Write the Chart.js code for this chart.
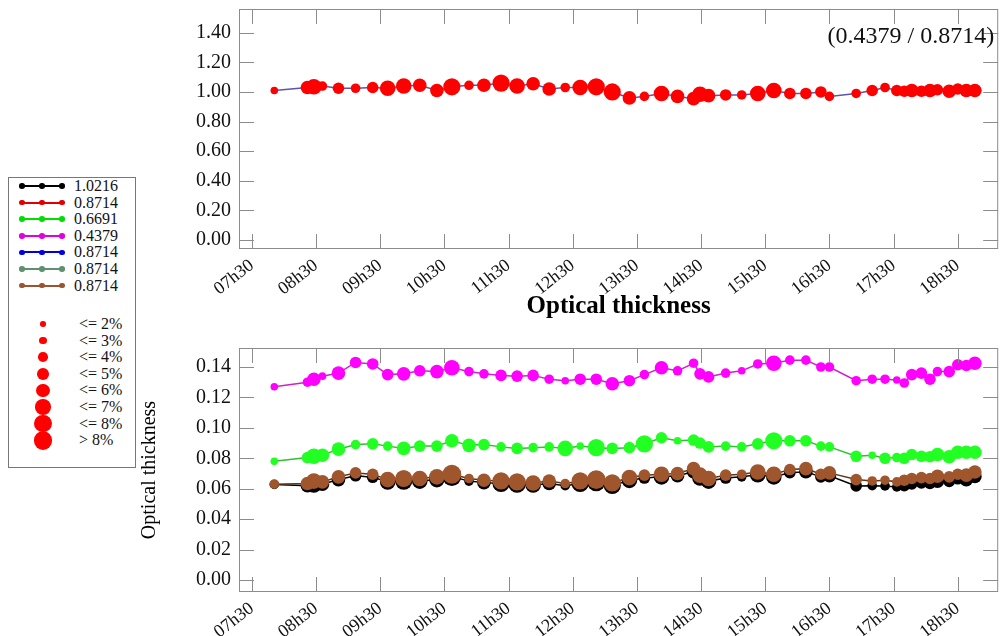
<!DOCTYPE html>
<html>
<head>
<meta charset="utf-8">
<script src="https://cdn.jsdelivr.net/npm/chart.js@4.4.0/dist/chart.umd.min.js"></script>
<style>
  body { margin: 0; background: #fff; width: 1005px; height: 636px; position: relative; overflow: hidden; font-family: "Liberation Serif", "DejaVu Serif", serif; }
  #topWrap { position: absolute; left: 0; top: 0; width: 1005px; height: 310px; }
  #botWrap { position: absolute; left: 0; top: 290px; width: 1005px; height: 346px; }
  #legend { position: absolute; left: 8px; top: 177px; width: 128px; height: 291px; border: 1px solid #777; background: #fff; box-sizing: border-box; z-index: 2; }
  .txt { position: absolute; font-size: 16px; line-height: 16px; color: #111; white-space: nowrap; }
  .ln { position: absolute; height: 2px; }
  .dot { position: absolute; border-radius: 50%; }
</style>
</head>
<body>
<div id="topWrap"><canvas id="topChart"></canvas></div>
<div id="botWrap"><canvas id="botChart"></canvas></div>
<div id="legend"></div>
<script>
// observation times
const times = ["07:51","08:22","08:28","08:36","08:51","09:07","09:23","09:37","09:52","10:07",
  "10:23","10:37","10:53","11:07","11:23","11:38","11:53","12:08","12:23","12:37",
  "12:52","13:07","13:23","13:37","13:53","14:08","14:23","14:29","14:37","14:53",
  "15:08","15:23","15:38","15:53","16:08","16:22","16:30","16:55","17:10","17:22",
  "17:33","17:40","17:47","17:56","18:04","18:11","18:22","18:30","18:38","18:46"];

const tickHours = [7.5, 8.5, 9.5, 10.5, 11.5, 12.5, 13.5, 14.5, 15.5, 16.5, 17.5, 18.5];

// top panel: ratio 0.4379 / 0.8714
const ratioValues = [1.01, 1.03, 1.035, 1.04, 1.025, 1.025, 1.03, 1.025, 1.04, 1.045,
  1.01, 1.035, 1.045, 1.045, 1.06, 1.04, 1.055, 1.02, 1.03, 1.03,
  1.035, 1.00, 0.96, 0.97, 0.99, 0.97, 0.955, 0.985, 0.975, 0.98,
  0.98, 0.99, 1.01, 0.99, 0.99, 1.0, 0.97, 0.99, 1.01, 1.03,
  1.01, 1.005, 1.01, 1.005, 1.01, 1.015, 1.005, 1.02, 1.01, 1.01];
const ratioSize = [2, 5, 6, 3, 4, 3, 4, 6, 6, 5,
  5, 7, 3, 5, 7, 6, 5, 5, 3, 6,
  7, 7, 5, 3, 6, 5, 5, 6, 5, 4,
  3, 6, 6, 4, 4, 4, 3, 3, 4, 3,
  4, 4, 5, 4, 5, 4, 5, 4, 5, 5];

// bottom panel: optical thickness per wavelength
const v04379 = [0.127, 0.130, 0.132, 0.134, 0.136, 0.143, 0.142, 0.135, 0.1355, 0.1375,
  0.137, 0.1395, 0.137, 0.1355, 0.1345, 0.134, 0.1345, 0.132, 0.131, 0.132,
  0.132, 0.129, 0.131, 0.135, 0.1395, 0.1375, 0.1425, 0.1355, 0.1335, 0.136,
  0.1375, 0.142, 0.1425, 0.1445, 0.1445, 0.140, 0.140, 0.131, 0.132, 0.132,
  0.1315, 0.1295, 0.135, 0.136, 0.132, 0.137, 0.137, 0.1415, 0.141, 0.1425];
const s04379 = [2, 3, 5, 2, 5, 4, 4, 4, 5, 4,
  5, 6, 3, 3, 4, 4, 4, 3, 2, 4,
  4, 5, 4, 3, 5, 3, 3, 4, 4, 3,
  2, 3, 6, 3, 3, 3, 3, 3, 3, 3,
  2, 3, 4, 4, 4, 3, 4, 4, 4, 5];

const v06691 = [0.078, 0.0805, 0.0813, 0.082, 0.086, 0.089, 0.0895, 0.088, 0.0865, 0.088,
  0.088, 0.0915, 0.0885, 0.089, 0.0875, 0.0865, 0.087, 0.0875, 0.0865, 0.088,
  0.087, 0.0865, 0.087, 0.0895, 0.0935, 0.0915, 0.092, 0.090, 0.0875, 0.088,
  0.0875, 0.0895, 0.0915, 0.0915, 0.0915, 0.088, 0.0875, 0.0813, 0.082, 0.080,
  0.0805, 0.080, 0.0825, 0.0813, 0.081, 0.0825, 0.081, 0.084, 0.084, 0.084];
const s06691 = [2, 4, 6, 5, 5, 3, 4, 3, 5, 4,
  4, 5, 5, 4, 3, 4, 3, 3, 6, 2,
  7, 4, 4, 7, 4, 2, 4, 4, 4, 3,
  3, 4, 7, 4, 4, 3, 3, 4, 2, 4,
  3, 4, 4, 4, 4, 5, 5, 5, 5, 5];

const v08714 = [0.063, 0.0634, 0.065, 0.0645, 0.0678, 0.0704, 0.0695, 0.066, 0.0667, 0.0667,
  0.0678, 0.0695, 0.0667, 0.0656, 0.0651, 0.0645, 0.0638, 0.0651, 0.0634, 0.0651,
  0.066, 0.0638, 0.0673, 0.0689, 0.0695, 0.070, 0.0732, 0.0689, 0.0667, 0.0689,
  0.0695, 0.071, 0.0695, 0.0726, 0.0732, 0.0695, 0.0704, 0.066, 0.0651, 0.0656,
  0.0645, 0.0656, 0.0667, 0.0673, 0.0667, 0.0682, 0.0678, 0.0695, 0.0689, 0.071];
const s08714 = [3, 5, 6, 5, 5, 4, 4, 6, 7, 6,
  6, 8, 3, 5, 7, 7, 6, 5, 3, 7,
  8, 7, 6, 4, 6, 5, 5, 6, 6, 4,
  3, 6, 6, 4, 5, 4, 5, 4, 3, 3,
  3, 4, 4, 4, 4, 5, 4, 4, 5, 5];

const v10216 = [0.0628, 0.062, 0.0625, 0.063, 0.066, 0.0685, 0.0675, 0.0645, 0.065, 0.065,
  0.066, 0.068, 0.065, 0.064, 0.0635, 0.063, 0.0625, 0.0635, 0.062, 0.0635,
  0.0645, 0.0622, 0.0655, 0.067, 0.0678, 0.0685, 0.0712, 0.067, 0.065, 0.067,
  0.0678, 0.0692, 0.0678, 0.0705, 0.0712, 0.0678, 0.0685, 0.0618, 0.062, 0.0618,
  0.0612, 0.062, 0.0632, 0.0638, 0.0635, 0.065, 0.0648, 0.0665, 0.066, 0.068];
const s10216 = [3, 5, 6, 5, 5, 4, 4, 6, 7, 6,
  6, 8, 3, 5, 7, 7, 6, 5, 3, 7,
  8, 7, 6, 4, 6, 5, 5, 6, 6, 4,
  3, 6, 6, 4, 5, 4, 5, 4, 3, 3,
  3, 4, 4, 4, 4, 5, 4, 4, 5, 5];

const seriesLabels = ["1.0216", "0.8714", "0.6691", "0.4379", "0.8714", "0.8714", "0.8714"];
const seriesColors = ["#000000", "#e00000", "#00e000", "#e000e0", "#0000e0", "#5f9070", "#9a5530"];
const sizeLabels = ["<= 2%", "<= 3%", "<= 4%", "<= 5%", "<= 6%", "<= 7%", "<= 8%", "> 8%"];
const sizeRadius = [2.8, 3.8, 4.8, 5.8, 6.8, 7.8, 8.6, 9.4];

const hours = times.map(t => {
  const p = t.split(":");
  return parseInt(p[0]) + parseInt(p[1]) / 60;
});
const pts = vals => vals.map((v, i) => ({ x: hours[i], y: v }));
const radii = sizes => sizes.map(s => sizeRadius[s - 1]);

Chart.defaults.font.family = "'Liberation Serif', 'DejaVu Serif', serif";
Chart.defaults.color = "#111";

const frameTicks = {
  id: "frameTicks",
  afterDraw(chart, args, opts) {
    const { ctx, chartArea: a, scales } = chart;
    ctx.save();
    ctx.strokeStyle = "#8c8c8c";
    ctx.lineWidth = 1;
    ctx.strokeRect(a.left + 0.5, a.top + 0.5, a.right - a.left - 1, a.bottom - a.top - 1);
    ctx.beginPath();
    scales.x.ticks.forEach(t => {
      const x = Math.round(scales.x.getPixelForValue(t.value)) + 0.5;
      ctx.moveTo(x, a.bottom); ctx.lineTo(x, a.bottom - 15);
      ctx.moveTo(x, a.top); ctx.lineTo(x, a.top + 15);
    });
    scales.y.ticks.forEach(t => {
      const y = Math.round(scales.y.getPixelForValue(t.value)) + 0.5;
      ctx.moveTo(a.left, y); ctx.lineTo(a.left + 15, y);
      ctx.moveTo(a.right, y); ctx.lineTo(a.right - 15, y);
    });
    ctx.stroke();
    if (opts.note) {
      ctx.fillStyle = "#111";
      ctx.font = "24px 'Liberation Serif', serif";
      ctx.textAlign = "right";
      ctx.textBaseline = "middle";
      ctx.fillText(opts.note, a.right - 4, a.top + 28);
    }
    ctx.restore();
  }
};

function xScale(h) {
  return {
    type: "linear",
    min: 7.30,
    max: 19.13,
    grid: { display: false, drawTicks: false },
    border: { display: false },
    afterBuildTicks: s => { s.ticks = tickHours.map(v => ({ value: v })); },
    afterFit: s => { s.height = h; s.paddingLeft = 0; s.paddingRight = 0; },
    ticks: {
      minRotation: 38,
      maxRotation: 38,
      padding: 6,
      font: { size: 18 },
      callback: v => {
        const hh = Math.floor(v);
        const mm = Math.round((v - hh) * 60);
        return String(hh).padStart(2, "0") + "h" + String(mm).padStart(2, "0");
      }
    }
  };
}

function yScale(min, max, step, w) {
  return {
    min: min,
    max: max,
    grid: { display: false, drawTicks: false },
    border: { display: false },
    afterFit: s => { s.width = w; s.paddingTop = 0; s.paddingBottom = 0; },
    ticks: { stepSize: step, includeBounds: false, padding: 8, font: { size: 20 }, callback: v => v.toFixed(2) }
  };
}

function series(label, vals, sizes, pointColor, lineColor, order) {
  return {
    label: label,
    data: pts(vals),
    borderColor: lineColor,
    backgroundColor: pointColor,
    pointBackgroundColor: pointColor,
    pointBorderColor: pointColor,
    pointBorderWidth: 0,
    pointRadius: radii(sizes),
    borderWidth: 1.5,
    order: order
  };
}

new Chart(document.getElementById("topChart"), {
  type: "line",
  data: {
    datasets: [series("0.4379 / 0.8714", ratioValues, ratioSize, "#ff0000", "#5b55b0", 0)]
  },
  options: {
    responsive: true,
    maintainAspectRatio: false,
    animation: false,
    layout: { padding: { top: 9, right: 6, left: 0, bottom: 0 } },
    plugins: { legend: { display: false }, tooltip: { enabled: false }, frameTicks: { note: "(0.4379 / 0.8714)" } },
    scales: {
      x: xScale(61),
      y: yScale(-0.06, 1.56, 0.2, 239)
    }
  },
  plugins: [frameTicks]
});

const botY = yScale(-0.0079, 0.1525, 0.02, 109);
botY.title = { display: true, text: "Optical thickness", font: { size: 20 }, color: "#000", padding: { top: 8, bottom: 0 } };

new Chart(document.getElementById("botChart"), {
  type: "line",
  data: {
    datasets: [
      series("1.0216", v10216, s10216, "#000000", "#000000", 3),
      series("0.6691", v06691, s06691, "#22ff22", "#30c030", 1),
      series("0.4379", v04379, s04379, "#ff00ff", "#d020d0", 0),
      series("0.8714", v08714, s08714, "#a0562c", "#5e3418", 2)
    ]
  },
  options: {
    responsive: true,
    maintainAspectRatio: false,
    animation: false,
    layout: { padding: { top: 0, right: 6, left: 130, bottom: 0 } },
    plugins: {
      legend: { display: false },
      tooltip: { enabled: false },
      title: {
        display: true,
        text: "Optical thickness",
        fullSize: false,
        color: "#000",
        font: { size: 25, weight: "bold" },
        padding: { top: 2, bottom: 26 }
      }
    },
    scales: {
      x: xScale(44),
      y: botY
    }
  },
  plugins: [frameTicks]
});

// legend box
const legend = document.getElementById("legend");
const boxLeft = 9, boxTop = 178;
function addEl(cls, x, y, w, h, color) {
  const d = document.createElement("div");
  d.className = cls;
  d.style.left = (x - boxLeft) + "px";
  d.style.top = (y - boxTop) + "px";
  if (w) d.style.width = w + "px";
  if (h) d.style.height = h + "px";
  if (color) d.style.background = color;
  legend.appendChild(d);
  return d;
}
seriesLabels.forEach((lab, i) => {
  const cy = 186 + 16.6 * i;
  addEl("ln", 20, cy - 1, 44, 2, seriesColors[i]);
  [22, 42, 62].forEach(cx => addEl("dot", cx - 2.8, cy - 2.8, 5.6, 5.6, seriesColors[i]));
  const t = addEl("txt", 74, cy - 8);
  t.textContent = lab;
});
sizeLabels.forEach((lab, i) => {
  const cy = 324 + 16.6 * i;
  const r = sizeRadius[i];
  addEl("dot", 43 - r, cy - r, 2 * r, 2 * r, "#ff0000");
  const t = addEl("txt", 79, cy - 8);
  t.textContent = lab;
});
</script>
</body>
</html>
